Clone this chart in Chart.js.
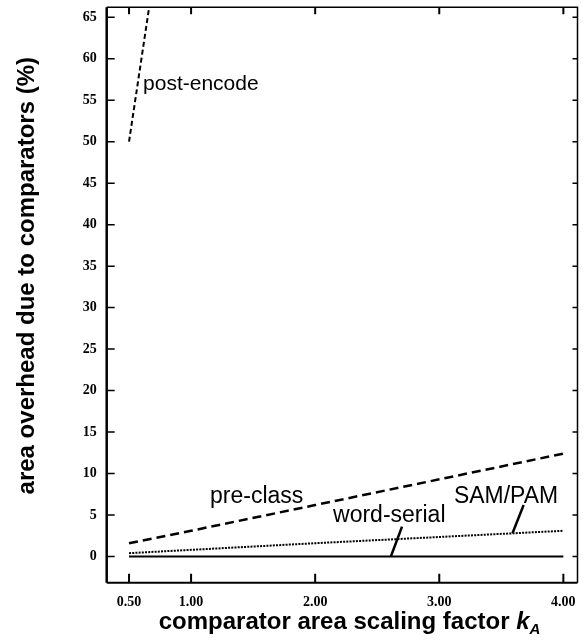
<!DOCTYPE html>
<html>
<head>
<meta charset="utf-8">
<script src="https://cdn.jsdelivr.net/npm/chart.js@4.4.0/dist/chart.umd.min.js"></script>
<style>
    html, body { margin: 0; padding: 0; background: #fff; }
    #chart { display: block; }
</style>
</head>
<body>
<canvas id="chart" width="583" height="640"></canvas>
<script>
// comparator area scaling factor kA
const kA = [0.5, 1.0, 2.0, 3.0, 4.0];
const preClass = [1.6, 3.1, 6.2, 9.3, 12.4];
const samPam = [0.4, 0.8, 1.6, 2.35, 3.1];
const wordSerial = [0, 0, 0, 0, 0];
// post-encode leaves the plot through the top
const postEncodeK = [0.5, 0.66];
const postEncode = [50, 66];

const xTicks = [0.5, 1, 2, 3, 4];
const yTicks = [0, 5, 10, 15, 20, 25, 30, 35, 40, 45, 50, 55, 60, 65];

// short pointer strokes from the labels to their curves
const wordSerialLeader = [[2.61, 0], [2.70, 3.6]];
const samPamLeader = [[3.59, 2.8], [3.68, 6.2]];

const curveLabels = [
    { text: "post-encode", x: 0.613, y: 56.2, size: 21 },
    { text: "pre-class", x: 1.153, y: 6.42, size: 23 },
    { text: "word-serial", x: 2.144, y: 4.2, size: 23 },
    { text: "SAM/PAM", x: 3.119, y: 6.42, size: 23, maxWidth: 104 },
];

const points = (xs, ys) => xs.map((x, i) => ({ x: x, y: ys[i] }));
const pairs = (arr) => arr.map((p) => ({ x: p[0], y: p[1] }));

const line = (data, dash, width) => {
    return {
        data: data,
        showLine: true,
        borderColor: "#000",
        borderWidth: width,
        borderDash: dash,
        pointRadius: 0,
        tension: 0,
    };
};

const framePlugin = {
    id: "frame",
    afterDraw: (chart) => {
        const ctx = chart.ctx;
        const area = chart.chartArea;
        const x = chart.scales.x;
        const y = chart.scales.y;

        ctx.save();
        ctx.strokeStyle = "#000";
        ctx.lineCap = "butt";

        // box
        ctx.lineWidth = 2.5;
        ctx.beginPath();
        ctx.moveTo(area.left, area.top);
        ctx.lineTo(area.left, area.bottom);
        ctx.stroke();
        ctx.lineWidth = 2;
        ctx.beginPath();
        ctx.moveTo(area.left, area.bottom);
        ctx.lineTo(area.right, area.bottom);
        ctx.stroke();
        ctx.lineWidth = 1.5;
        ctx.beginPath();
        ctx.moveTo(area.left, area.top);
        ctx.lineTo(area.right, area.top);
        ctx.lineTo(area.right, area.bottom);
        ctx.stroke();

        // inward tick marks on all four sides
        ctx.lineWidth = 1.5;
        yTicks.forEach((v) => {
            const py = y.getPixelForValue(v);
            ctx.beginPath();
            ctx.moveTo(area.left, py);
            ctx.lineTo(area.left + 8, py);
            ctx.moveTo(area.right, py);
            ctx.lineTo(area.right - 5, py);
            ctx.stroke();
        });
        ctx.lineWidth = 2;
        xTicks.forEach((v) => {
            const px = x.getPixelForValue(v);
            ctx.beginPath();
            ctx.moveTo(px, area.bottom);
            ctx.lineTo(px, area.bottom - 9);
            ctx.moveTo(px, area.top);
            ctx.lineTo(px, area.top + 7);
            ctx.stroke();
        });

        // curve labels
        ctx.fillStyle = "#000";
        ctx.textAlign = "left";
        ctx.textBaseline = "alphabetic";
        curveLabels.forEach((lbl) => {
            ctx.font = lbl.size + "px 'Liberation Sans', Arial, sans-serif";
            const px = x.getPixelForValue(lbl.x);
            const py = y.getPixelForValue(lbl.y);
            if (lbl.maxWidth) {
                ctx.fillText(lbl.text, px, py, lbl.maxWidth);
            } else {
                ctx.fillText(lbl.text, px, py);
            }
        });

        // x axis title with italic k and subscript A
        const base = 629;
        let tx = area.left + 52;
        ctx.font = "bold 24px 'Liberation Sans', Arial, sans-serif";
        const main = "comparator area scaling factor ";
        ctx.fillText(main, tx, base);
        tx += ctx.measureText(main).width;
        ctx.font = "italic bold 24px 'Liberation Sans', Arial, sans-serif";
        ctx.fillText("k", tx, base);
        tx += ctx.measureText("k").width;
        ctx.font = "italic bold 15px 'Liberation Sans', Arial, sans-serif";
        ctx.fillText("A", tx, base + 5);

        // y axis title
        ctx.translate(33.5, 275.7);
        ctx.rotate(-Math.PI / 2);
        ctx.textAlign = "center";
        ctx.font = "bold 24px 'Liberation Sans', Arial, sans-serif";
        ctx.fillText("area overhead due to comparators (%)", 0, 0);

        ctx.restore();
    },
};

const chart = new Chart(document.getElementById("chart"), {
    type: "scatter",
    data: {
        datasets: [
            line(points(postEncodeK, postEncode), [5, 3], 2),
            line(points(kA, preClass), [9, 5], 2.5),
            line(points(kA, samPam), [2, 1.2], 2),
            line(points(kA, wordSerial), [], 2),
            line(pairs(wordSerialLeader), [], 2.5),
            line(pairs(samPamLeader), [], 2.5),
        ],
    },
    options: {
        responsive: false,
        animation: false,
        events: [],
        layout: {
            padding: { top: 7.3, right: 5.5, left: 0, bottom: 0 },
        },
        plugins: {
            legend: { display: false },
            tooltip: { enabled: false },
        },
        scales: {
            x: {
                type: "linear",
                min: 0.32,
                max: 4.114,
                afterBuildTicks: (s) => {
                    s.ticks = xTicks.map((v) => ({ value: v }));
                },
                afterFit: (s) => {
                    s.height = 57.3;
                    s.paddingLeft = 0;
                    s.paddingRight = 0;
                },
                grid: { display: false, drawTicks: false },
                border: { display: false },
                ticks: {
                    padding: 11,
                    maxRotation: 0,
                    autoSkip: false,
                    color: "#000",
                    font: { family: "'Liberation Serif', 'Times New Roman', serif", size: 14, weight: "bold" },
                    callback: (v) => v.toFixed(2),
                },
            },
            y: {
                type: "linear",
                min: -3.16,
                max: 66.2,
                afterBuildTicks: (s) => {
                    s.ticks = yTicks.map((v) => ({ value: v }));
                },
                afterFit: (s) => {
                    s.width = 106.7;
                    s.paddingTop = 0;
                    s.paddingBottom = 0;
                },
                grid: { display: false, drawTicks: false },
                border: { display: false },
                ticks: {
                    padding: 10,
                    autoSkip: false,
                    color: "#000",
                    font: { family: "'Liberation Serif', 'Times New Roman', serif", size: 14, weight: "bold" },
                    callback: (v) => String(v),
                },
            },
        },
    },
    plugins: [framePlugin],
});
</script>
</body>
</html>
